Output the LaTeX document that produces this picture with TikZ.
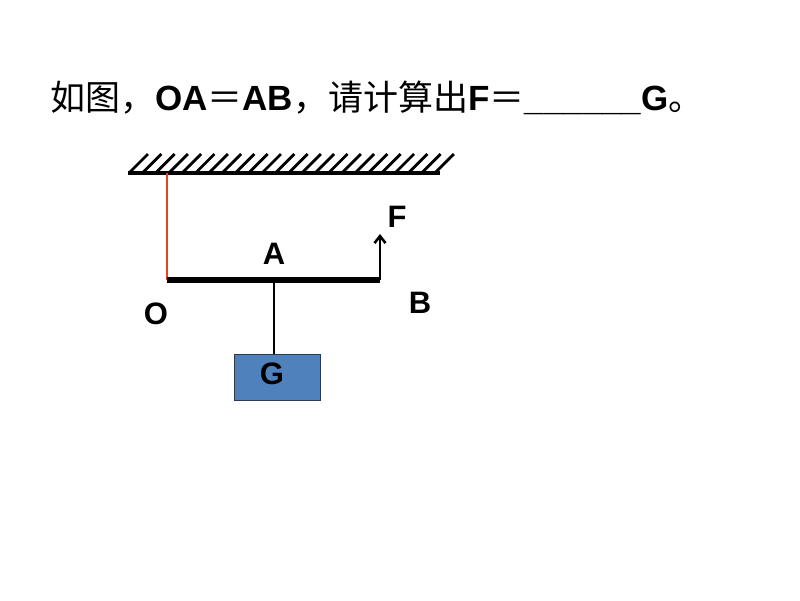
\documentclass[tikz,border=0pt]{standalone}
\usepackage{fontspec}
\setmainfont{Liberation Sans}
\newfontfamily\cjk{Noto Sans CJK SC}
\usetikzlibrary{arrows.meta}
\definecolor{ropered}{HTML}{E8431C}
\definecolor{boxblue}{HTML}{4F81BD}
\definecolor{boxedge}{HTML}{2B3A4F}
\tikzset{
  lbl/.style={font=\fontsize{31}{36}\selectfont\bfseries, inner sep=0pt},
  hatch/.style={line width=2.8pt},
}
\begin{document}
\begin{tikzpicture}[x=1pt,y=-1pt]
\useasboundingbox (0,0) rectangle (800,600);
% title
\node[anchor=base west, inner sep=0pt] (title) at (50,110)
 {\fontsize{35}{40}\selectfont{\cjk 如图，}\textbf{OA}{\cjk ＝}\textbf{AB}{\cjk ，请计算出}\textbf{F}{\cjk ＝}\textbf{\_\_\_\_\_\_G}{\cjk 。}};
% ceiling
\coordinate (c1) at (128,173);
\coordinate (c2) at (440,173);
\draw[line width=3.2pt] (c1) -- (c2);
\foreach \i in {0,...,23} {
  \draw[hatch] ({130+13.3*\i},172) -- ++(18,-18);
}
% pivot rope
\coordinate (top) at (167,173);
\coordinate (O) at (167,280);
\coordinate (A) at (274,280);
\coordinate (B) at (380,280);
\coordinate (Ftip) at (380,234);
\draw[ropered, line width=1.8pt] (top) -- (O);
% lever
\draw[line width=5.5pt] (O) -- (B);
% weight
\node[draw=boxedge, fill=boxblue, line width=0.8pt, minimum width=86pt, minimum height=46pt, inner sep=0pt, anchor=north] (box) at (277,354) {};
\draw[line width=1.8pt] (A) -- (box.north -| A);
% force arrow
\draw[line width=2.6pt, -{Straight Barb[length=7pt,width=11pt]}] (B) -- (Ftip);
% labels
\node[lbl] (lF) at (397,217) {F};
\node[lbl] (lA) at (274,254) {A};
\node[lbl] (lO) at (156,314) {O};
\node[lbl] (lB) at (420,303) {B};
\node[lbl] (lG) at (272,374) {G};
\end{tikzpicture}
\end{document}
